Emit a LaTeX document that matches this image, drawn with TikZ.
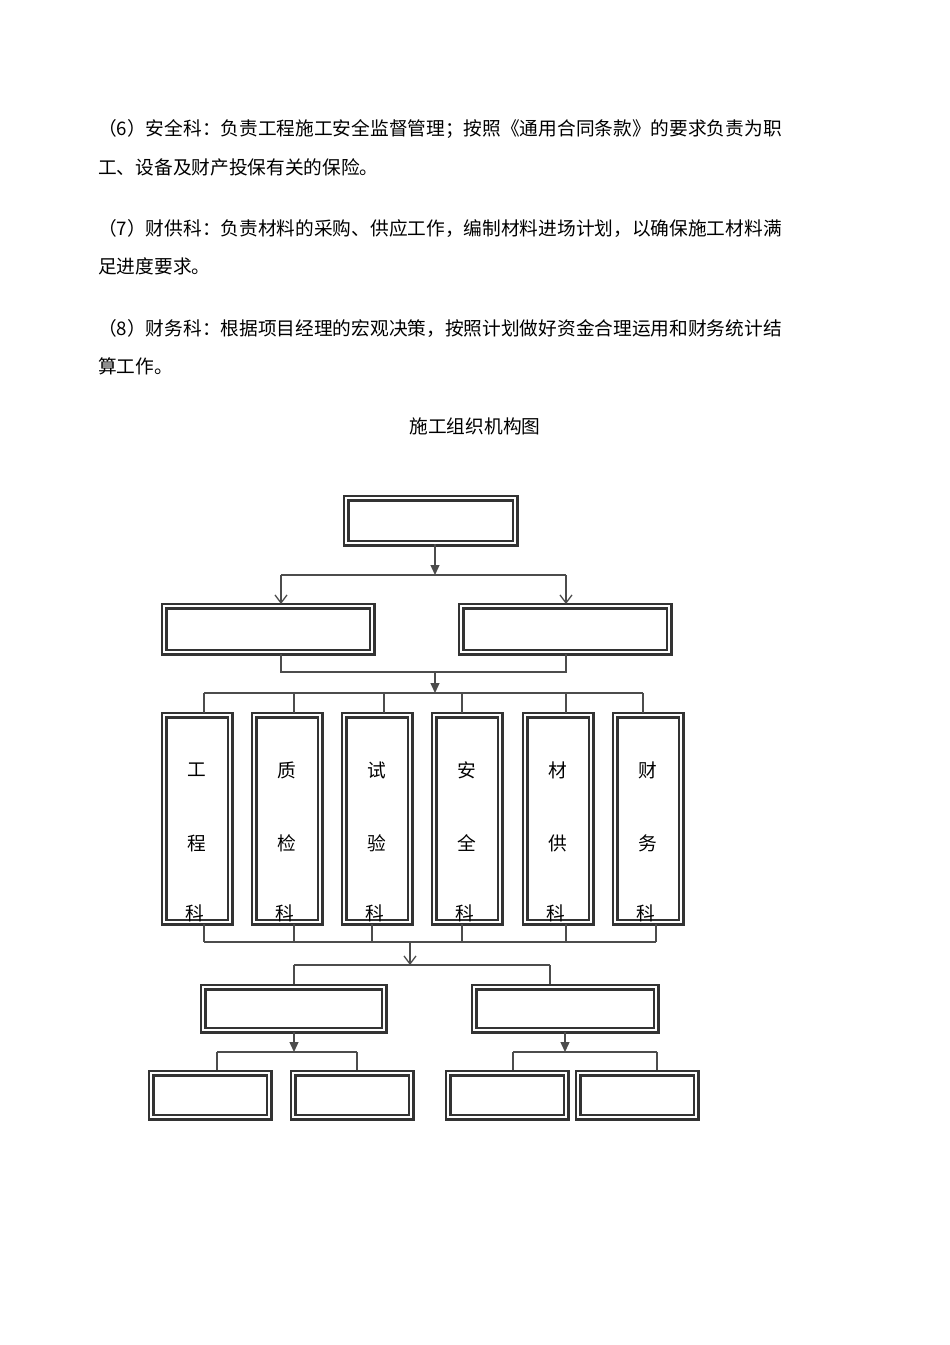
\documentclass[tikz,border=0pt]{standalone}
\usepackage{fontspec}
\newfontfamily\cjk{Noto Sans CJK SC}
\usetikzlibrary{arrows.meta}
\begin{document}
\begin{tikzpicture}[x=1pt,y=-1pt,
 bx/.style={draw=black!80,line width=2.4pt,double=white,double distance=2.2pt},
 ln/.style={draw=black!70,line width=1.3pt},
 fa/.style={ln,-{Triangle[length=10pt,width=9pt]}},
 oa/.style={ln,-{Straight Barb[length=8pt,width=12pt]}},
 tx/.style={font=\cjk\fontsize{18.7}{22}\selectfont,anchor=west,inner sep=0pt},
 ct/.style={font=\cjk\fontsize{18.7}{22}\selectfont,inner sep=0pt}]
\useasboundingbox (0,0) rectangle (950,1345);
\node[tx] (p1) at (98,129) {（6）安全科：负责工程施工安全监督管理；按照《通用合同条款》的要求负责为职};
\node[tx] (p2) at (98,167) {工、设备及财产投保有关的保险。};
\node[tx] (p3) at (98,228) {（7）财供科：负责材料的采购、供应工作，编制材料进场计划，以确保施工材料满};
\node[tx] (p4) at (98,266) {足进度要求。};
\node[tx] (p5) at (98,328) {（8）财务科：根据项目经理的宏观决策，按照计划做好资金合理运用和财务统计结};
\node[tx] (p6) at (98,366) {算工作。};
\node[ct] (title) at (475,426) {施工组织机构图};
% top
\path[bx] (346,498) rectangle (515,543);
\coordinate (t) at (435,544);
\path[bx] (164,606) rectangle (372,652);
\path[bx] (461,606) rectangle (669,652);
\draw[fa] (t) -- (435,575);
\draw[ln] (281,575) -- (566,575);
\draw[oa] (281,575) -- (281,604);
\draw[oa] (566,575) -- (566,604);
\draw[ln] (281,654) -- (281,672) -- (566,672) -- (566,654);
\draw[fa] (435,672) -- (435,693);
\draw[ln] (204,693) -- (643,693);
\foreach \l/\c/\a/\b/\cc in {164/204/工/程/科, 254/294/质/检/科, 344/384/试/验/科, 434/462/安/全/科, 525/566/材/供/科, 615/643/财/务/科}{
  \path[bx] (\l,715) rectangle (\l+66,922);
  \draw[ln] (\c,693) -- (\c,713);
  \node[ct] at (\l+33,770) {\a};
  \node[ct] at (\l+33,843) {\b};
  \node[ct] at (\l+31,913) {\cc};
}
\foreach \c in {204,294,372,462,566,656}{\draw[ln] (\c,924) -- (\c,942);}
\draw[ln] (204,942) -- (656,942);
\draw[oa] (410,942) -- (410,965);
\draw[ln] (294,965) -- (550,965);
\draw[ln] (294,965) -- (294,985);
\draw[ln] (550,965) -- (550,985);
\path[bx] (203,987) rectangle (384,1030);
\path[bx] (474,987) rectangle (656,1030);
\draw[fa] (294,1032) -- (294,1052);
\draw[ln] (217,1052) -- (357,1052);
\draw[ln] (217,1052) -- (217,1071);
\draw[ln] (357,1052) -- (357,1071);
\draw[fa] (565,1032) -- (565,1052);
\draw[ln] (513,1052) -- (657,1052);
\draw[ln] (513,1052) -- (513,1071);
\draw[ln] (657,1052) -- (657,1071);
\path[bx] (151,1073) rectangle (269,1117);
\path[bx] (293,1073) rectangle (411,1117);
\path[bx] (448,1073) rectangle (566,1117);
\path[bx] (578,1073) rectangle (696,1117);
\end{tikzpicture}
\end{document}
